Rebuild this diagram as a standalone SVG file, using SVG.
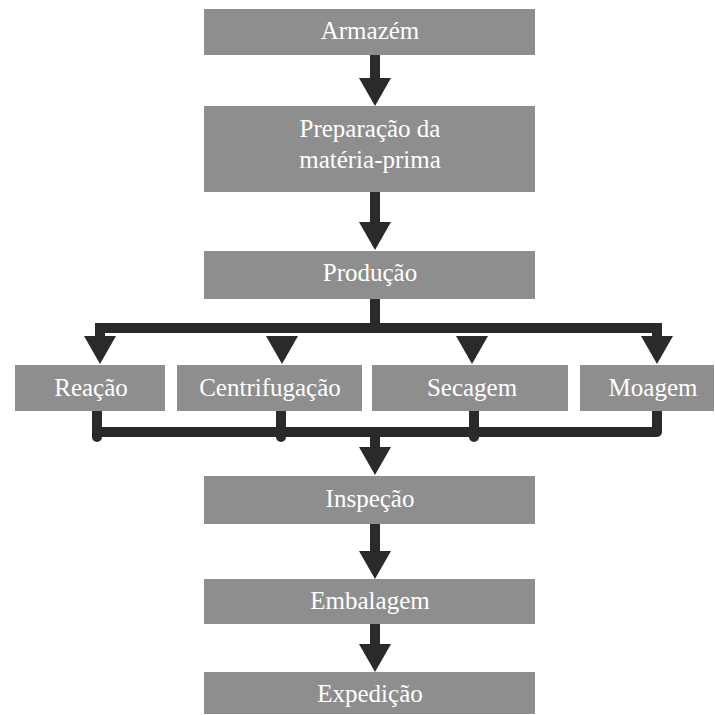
<svg xmlns="http://www.w3.org/2000/svg" width="715" height="715" viewBox="0 0 715 715">
  <style>
    .box { fill: #8e8e8e; }
    .lbl { fill: #ffffff; text-anchor: middle; }
    .wire { fill: none; stroke: #2a2a2a; stroke-width: 10; }
    .wire-r { fill: none; stroke: #2a2a2a; stroke-width: 10; stroke-linecap: round; stroke-linejoin: round; }
    .head { fill: #2a2a2a; }
  </style>
  <defs>
    <!-- arrowhead, tip at origin, pointing down -->
    <polygon id="ah" points="-16,-28 16,-28 0,0"/>
  </defs>
  <rect width="715" height="715" fill="#ffffff"/>

  <g id="connectors">
    <!-- Armazém to Preparação -->
    <path class="wire" d="M375,55 V80"/>
    <use href="#ah" class="head" x="375" y="106"/>
    <!-- Preparação to Produção -->
    <path class="wire" d="M375,192 V222"/>
    <use href="#ah" class="head" x="375" y="250"/>
    <!-- Produção splits to four steps -->
    <path class="wire" d="M375,299 V328"/>
    <path class="wire" d="M100,337 V328 H657 V337"/>
    <use href="#ah" class="head" x="100" y="364"/>
    <use href="#ah" class="head" x="282" y="364"/>
    <use href="#ah" class="head" x="472" y="364"/>
    <use href="#ah" class="head" x="657" y="364"/>
    <!-- four steps join back -->
    <path class="wire-r" d="M97,411 V437"/>
    <path class="wire-r" d="M281,411 V437"/>
    <path class="wire-r" d="M474,411 V437"/>
    <path class="wire-r" d="M657,411 V432 H97"/>
    <path class="wire" d="M375,432 V448"/>
    <use href="#ah" class="head" x="375" y="475"/>
    <!-- Inspeção to Embalagem -->
    <path class="wire" d="M375,524 V554"/>
    <use href="#ah" class="head" x="375" y="579"/>
    <!-- Embalagem to Expedição -->
    <path class="wire" d="M375,624 V645"/>
    <use href="#ah" class="head" x="375" y="672"/>
  </g>

  <g font-family="Liberation Serif, Times New Roman, serif" font-size="25">
    <g id="armazem">
      <rect class="box" x="204" y="9" width="331" height="46"/>
      <text class="lbl" x="370" y="39">Armazém</text>
    </g>
    <g id="preparacao">
      <rect class="box" x="204" y="106" width="331" height="86"/>
      <text class="lbl" x="370" y="137">Preparação da</text>
      <text class="lbl" x="370" y="168">matéria-prima</text>
    </g>
    <g id="producao">
      <rect class="box" x="204" y="251" width="331" height="48"/>
      <text class="lbl" x="370" y="281">Produção</text>
    </g>
    <g id="reacao">
      <rect class="box" x="15" y="365" width="150" height="46"/>
      <text class="lbl" x="91" y="396">Reação</text>
    </g>
    <g id="centrifugacao">
      <rect class="box" x="177" y="365" width="185" height="46"/>
      <text class="lbl" x="270" y="396">Centrifugação</text>
    </g>
    <g id="secagem">
      <rect class="box" x="372" y="365" width="196" height="46"/>
      <text class="lbl" x="472" y="396">Secagem</text>
    </g>
    <g id="moagem">
      <rect class="box" x="580" y="365" width="134" height="46"/>
      <text class="lbl" x="653" y="396">Moagem</text>
    </g>
    <g id="inspecao">
      <rect class="box" x="204" y="476" width="331" height="48"/>
      <text class="lbl" x="370" y="507">Inspeção</text>
    </g>
    <g id="embalagem">
      <rect class="box" x="204" y="579" width="331" height="45"/>
      <text class="lbl" x="370" y="609">Embalagem</text>
    </g>
    <g id="expedicao">
      <rect class="box" x="204" y="672" width="331" height="42"/>
      <text class="lbl" x="370" y="702">Expedição</text>
    </g>
  </g>
</svg>
